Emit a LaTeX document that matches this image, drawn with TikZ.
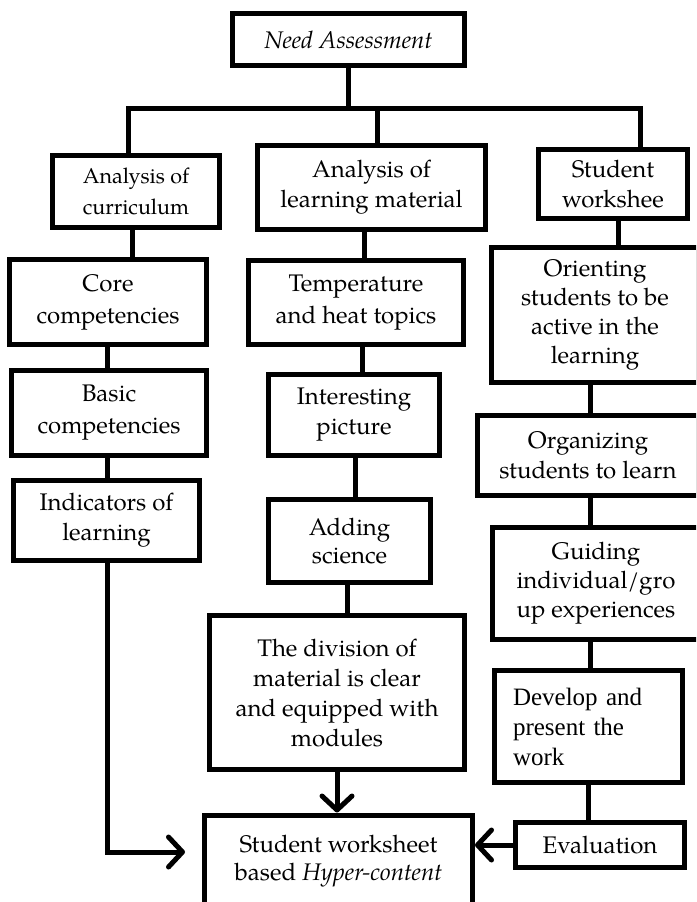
\documentclass[tikz,border=0pt]{standalone}
\usepackage{fontspec}
\setmainfont{texgyrepagella}[Extension=.otf,UprightFont=*-regular,ItalicFont=*-italic,BoldFont=*-bold,BoldItalicFont=*-bolditalic]
\newfontfamily\timesfont{Liberation Serif}
\usetikzlibrary{arrows.meta}
\begin{document}
\begin{tikzpicture}[x=1pt,y=-1pt,
  box/.style={draw, line width=5pt, fill=white, inner sep=0pt, align=center,
    font=\fontsize{24}{30}\selectfont},
  conn/.style={line width=5pt},
  arr/.style={line width=5pt, -{Straight Barb[length=14pt,width=30pt,line cap=round,line join=round]}}
]
\useasboundingbox (0,0) rectangle (696,902);
\clip (0,0) rectangle (696,902);
% boxes
\node[box, minimum width=232pt, minimum height=52pt] (need) at (348.5,39.5) {\itshape Need Assessment};
\node[box, minimum width=167pt, minimum height=72pt, font=\fontsize{21.5}{31}\selectfont] (anc) at (136,191.5) {Analysis of\\curriculum};
\node[box, minimum width=228pt, minimum height=84pt] (alm) at (371.5,187.5) {Analysis of\\learning material};
\node[box, minimum width=149pt, minimum height=69pt] (sw) at (613,184) {Student\\workshee};
\node[box, minimum width=197pt, minimum height=85pt, font=\fontsize{24}{32}\selectfont] (core) at (108,302) {Core\\competencies};
\node[box, minimum width=215pt, minimum height=84pt, font=\fontsize{24}{32}\selectfont] (temp) at (356,302.5) {Temperature\\and heat topics};
\node[box, minimum width=207pt, minimum height=135pt, font=\fontsize{24}{29}\selectfont] (orient) at (595,315) {Orienting\\students to be\\active in the\\learning};
\node[box, minimum width=195pt, minimum height=85pt, font=\fontsize{24}{32}\selectfont] (basic) at (109,413) {Basic\\competencies};
\node[box, minimum width=171pt, minimum height=81pt] (inter) at (354,415) {Interesting\\picture};
\node[box, minimum width=221pt, minimum height=80pt] (organ) at (588,455.5) {Organizing\\students to learn};
\node[box, minimum width=186pt, minimum height=80pt] (indic) at (106.5,520.5) {Indicators of\\learning};
\node[box, minimum width=162pt, minimum height=83pt, font=\fontsize{24}{28}\selectfont] (adding) at (349.5,541) {Adding\\science};
\node[box, minimum width=207pt, minimum height=112pt, font=\fontsize{24}{29}\selectfont] (guiding) at (596,583.5) {Guiding\\individual/gro\\up experiences};
\node[box, minimum width=255pt, minimum height=154pt] (division) at (337,692.5) {The division of\\material is clear\\and equipped with\\modules};
\node[box, minimum height=112pt, text width=150pt, inner xsep=19pt, align=left, font=\timesfont\fontsize{25}{30}\selectfont] (develop) at (588,726.5) {Develop and\\present the\\work};
\node[box, minimum width=169pt, minimum height=45pt] (eval) at (600,845) {Evaluation};
\node[box, minimum width=268pt, minimum height=92pt, font=\fontsize{24}{28}\selectfont] (bot) at (338.5,861) {Student worksheet\\based \textit{Hyper-content}};
% connectors
\coordinate (barL) at (128,108);
\coordinate (barR) at (640,108);
\draw[conn] (need.south) -- (need.south |- barL);
\draw[conn] (anc.north -| barL) -- (barL) -- (barR) -- (sw.north -| barR);
\draw[conn] (alm.north -| 377,0) -- (377,108);
\draw[conn] (anc.south -| 132,0) -- (core.north -| 132,0);
\draw[conn] (core.south -| 107,0) -- (basic.north -| 107,0);
\draw[conn] (basic.south -| 107,0) -- (indic.north -| 107,0);
\draw[arr, shorten >=17pt] (indic.south -| 107,0) |- (bot.west |- 0,852);
\draw[conn] (alm.south -| 364,0) -- (temp.north -| 364,0);
\draw[conn] (temp.south -| 362,0) -- (inter.north -| 362,0);
\draw[conn] (inter.south -| 355,0) -- (adding.north -| 355,0);
\draw[conn] (adding.south -| 347,0) -- (division.north -| 347,0);
\draw[arr] (division.south) -- (bot.north -| division.south);
\draw[conn] (sw.south -| 618,0) -- (orient.north -| 618,0);
\draw[conn] (orient.south -| 590,0) -- (organ.north -| 590,0);
\draw[conn] (organ.south -| 590,0) -- (guiding.north -| 590,0);
\draw[conn] (guiding.south -| 590,0) -- (develop.north -| 590,0);
\draw[conn] (develop.south -| 588,0) -- (eval.north -| 588,0);
\draw[arr] (eval.west) -- (eval.west -| bot.east);
\end{tikzpicture}
\end{document}
